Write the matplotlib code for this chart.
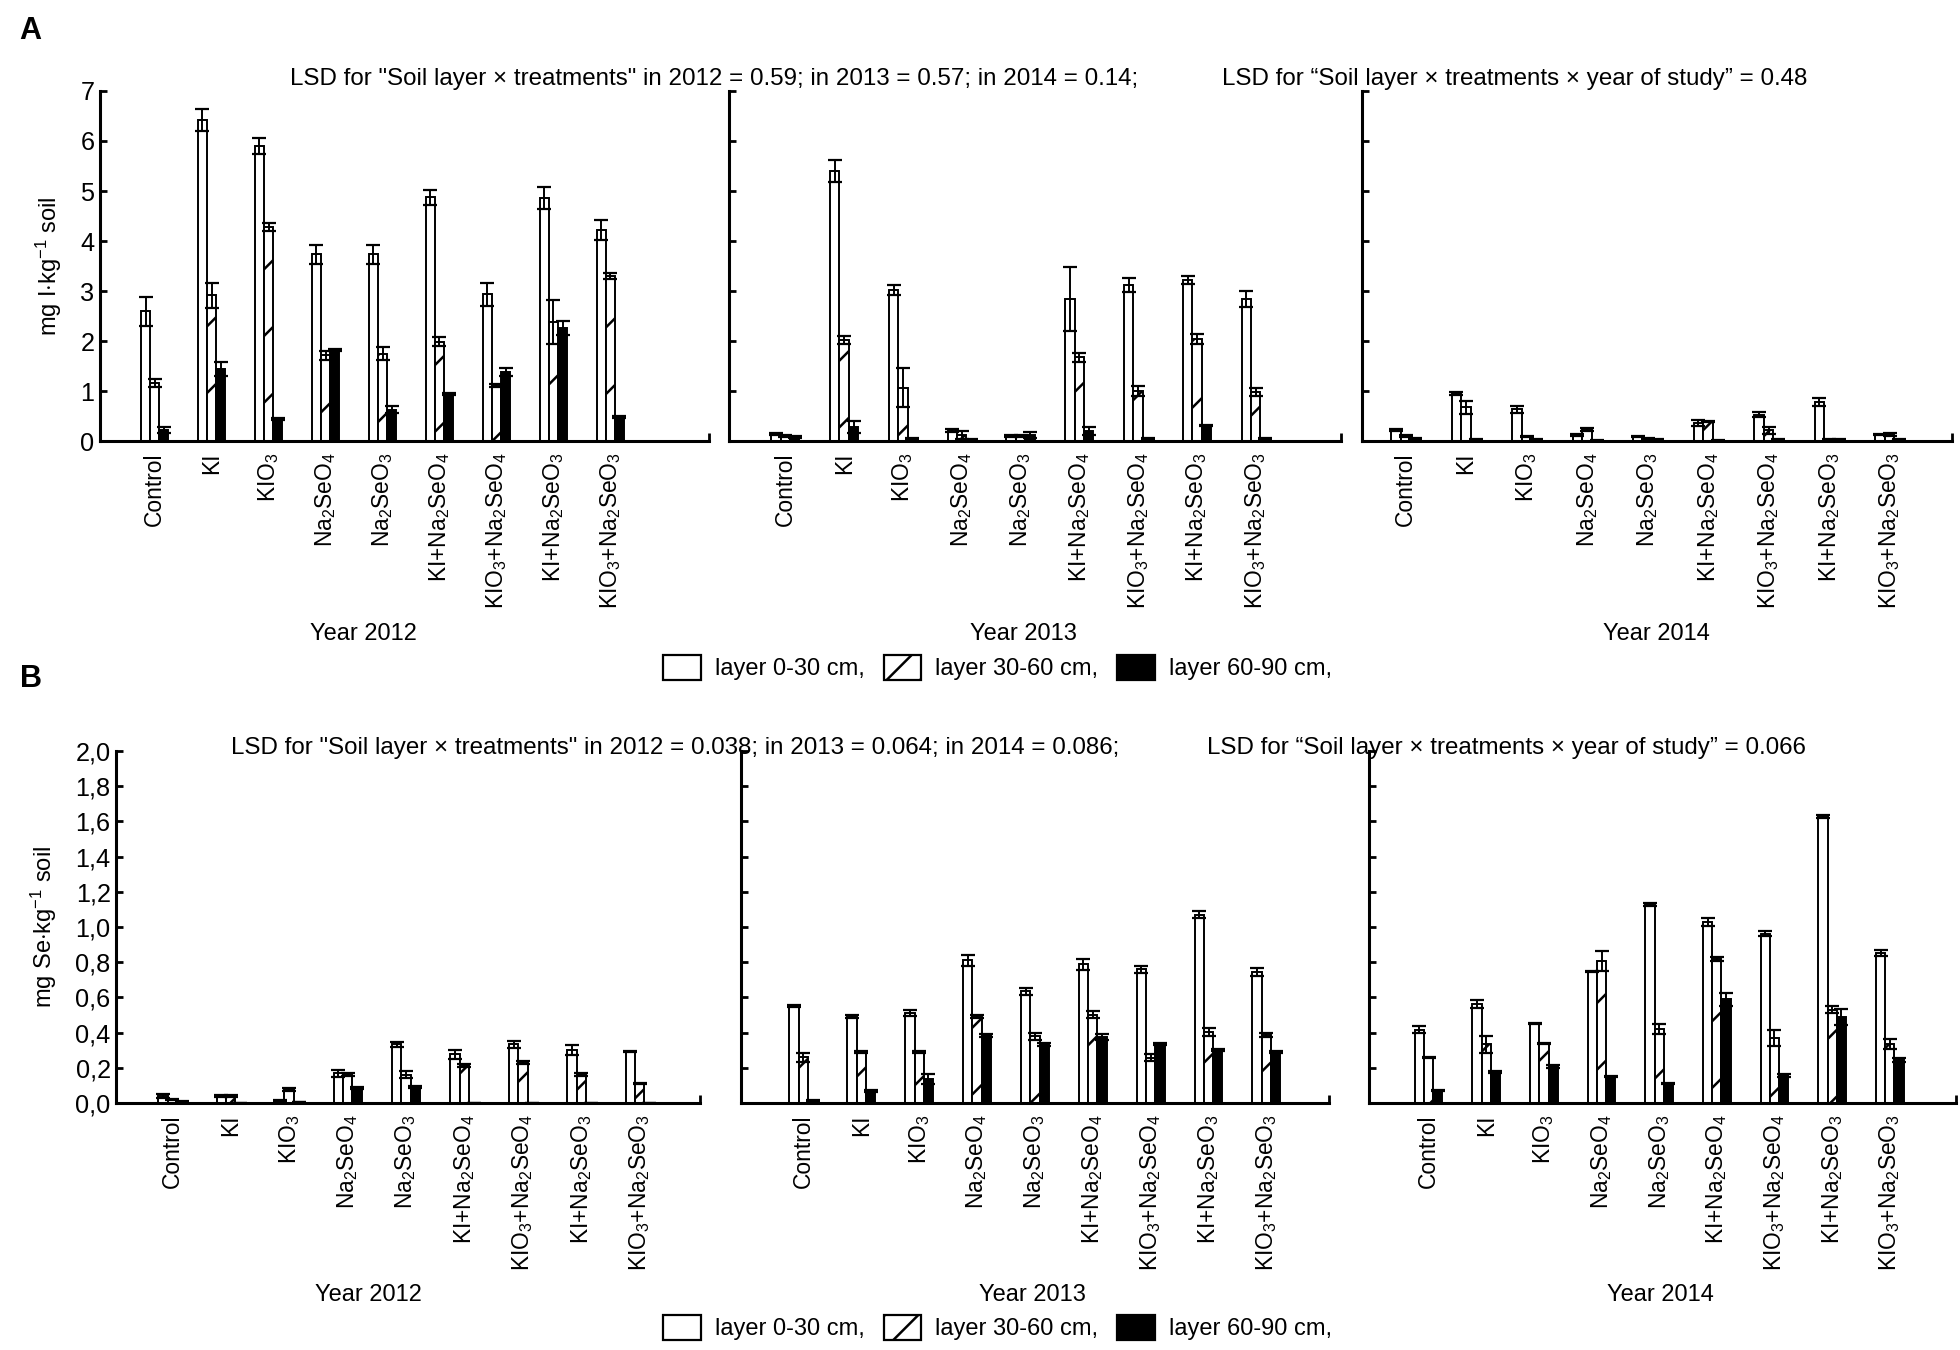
import matplotlib
matplotlib.use("Agg")
import matplotlib.pyplot as plt
import numpy as np
from matplotlib.patches import Patch

plt.rcParams['font.family'] = ['Liberation Sans', 'DejaVu Sans']
plt.rcParams['mathtext.fontset'] = 'custom'
plt.rcParams['mathtext.rm'] = 'Liberation Sans'
plt.rcParams['mathtext.it'] = 'Liberation Sans:italic'
plt.rcParams['mathtext.default'] = 'rm'
plt.rcParams['hatch.linewidth'] = 0.9

# kategorie
treatments = ['Control', 'KI', 'KIO$_3$', 'Na$_2$SeO$_4$', 'Na$_2$SeO$_3$',
              'KI+Na$_2$SeO$_4$', 'KIO$_3$+Na$_2$SeO$_4$', 'KI+Na$_2$SeO$_3$',
              'KIO$_3$+Na$_2$SeO$_3$']
years = ['Year 2012', 'Year 2013', 'Year 2014']
layers = ['layer 0-30 cm,', 'layer 30-60 cm,', 'layer 60-90 cm,']

# A - jod (mg I/kg)
i12_l1 = [2.60, 6.42, 5.89, 3.74, 3.74, 4.88, 2.94, 4.86, 4.23]
i12_l1_err = [0.29, 0.22, 0.16, 0.19, 0.19, 0.15, 0.23, 0.22, 0.20]
i12_l2 = [1.16, 2.92, 4.28, 1.72, 1.75, 1.99, 1.11, 2.38, 3.30]
i12_l2_err = [0.08, 0.25, 0.08, 0.09, 0.13, 0.09, 0.03, 0.44, 0.06]
i12_l3 = [0.22, 1.44, 0.44, 1.82, 0.63, 0.94, 1.39, 2.27, 0.48]
i12_l3_err = [0.06, 0.14, 0.02, 0.02, 0.07, 0.02, 0.08, 0.14, 0.02]

i13_l1 = [0.15, 5.41, 3.02, 0.22, 0.11, 2.84, 3.13, 3.22, 2.84]
i13_l1_err = [0.02, 0.22, 0.10, 0.03, 0.02, 0.64, 0.14, 0.08, 0.16]
i13_l2 = [0.10, 2.02, 1.07, 0.12, 0.10, 1.68, 1.01, 2.04, 0.98]
i13_l2_err = [0.02, 0.08, 0.39, 0.08, 0.02, 0.09, 0.10, 0.10, 0.08]
i13_l3 = [0.08, 0.28, 0.05, 0.04, 0.12, 0.21, 0.06, 0.31, 0.06]
i13_l3_err = [0.02, 0.12, 0.01, 0.01, 0.06, 0.08, 0.01, 0.01, 0.01]

i14_l1 = [0.22, 0.96, 0.64, 0.12, 0.10, 0.36, 0.53, 0.78, 0.13]
i14_l1_err = [0.02, 0.03, 0.07, 0.02, 0.01, 0.06, 0.05, 0.08, 0.01]
i14_l2 = [0.11, 0.68, 0.10, 0.24, 0.05, 0.40, 0.22, 0.03, 0.13]
i14_l2_err = [0.02, 0.13, 0.01, 0.03, 0.01, 0.01, 0.07, 0.01, 0.03]
i14_l3 = [0.05, 0.04, 0.03, 0.01, 0.03, 0.01, 0.03, 0.03, 0.04]
i14_l3_err = [0.01, 0.01, 0.01, 0.005, 0.01, 0.005, 0.01, 0.01, 0.01]

# B - selen (mg Se/kg)
s12_l1 = [0.040, 0.040, 0.015, 0.170, 0.333, 0.277, 0.333, 0.300, 0.294]
s12_l1_err = [0.010, 0.005, 0.003, 0.020, 0.015, 0.025, 0.018, 0.028, 0.003]
s12_l2 = [0.020, 0.040, 0.075, 0.160, 0.160, 0.215, 0.230, 0.160, 0.110]
s12_l2_err = [0.005, 0.005, 0.008, 0.008, 0.020, 0.008, 0.008, 0.008, 0.004]
s12_l3 = [0.010, 0.0, 0.005, 0.085, 0.090, 0.0, 0.0, 0.0, 0.0]
s12_l3_err = [0.003, 0.0, 0.002, 0.004, 0.005, 0.0, 0.0, 0.0, 0.0]

s13_l1 = [0.549, 0.489, 0.511, 0.811, 0.636, 0.788, 0.759, 1.070, 0.744]
s13_l1_err = [0.005, 0.008, 0.018, 0.032, 0.020, 0.030, 0.020, 0.020, 0.025]
s13_l2 = [0.260, 0.290, 0.290, 0.490, 0.380, 0.500, 0.258, 0.403, 0.385]
s13_l2_err = [0.026, 0.008, 0.008, 0.008, 0.020, 0.020, 0.020, 0.022, 0.010]
s13_l3 = [0.015, 0.068, 0.138, 0.384, 0.333, 0.375, 0.337, 0.300, 0.290]
s13_l3_err = [0.004, 0.005, 0.029, 0.010, 0.008, 0.015, 0.005, 0.005, 0.008]

s14_l1 = [0.417, 0.564, 0.450, 0.748, 1.127, 1.028, 0.962, 1.630, 0.852]
s14_l1_err = [0.018, 0.023, 0.004, 0.004, 0.008, 0.022, 0.015, 0.008, 0.018]
s14_l2 = [0.258, 0.333, 0.337, 0.805, 0.422, 0.816, 0.369, 0.530, 0.333]
s14_l2_err = [0.005, 0.047, 0.004, 0.057, 0.028, 0.012, 0.044, 0.020, 0.029]
s14_l3 = [0.072, 0.176, 0.208, 0.150, 0.110, 0.589, 0.157, 0.489, 0.246]
s14_l3_err = [0.004, 0.004, 0.008, 0.004, 0.004, 0.036, 0.008, 0.047, 0.012]

iod = [((i12_l1, i12_l1_err), (i12_l2, i12_l2_err), (i12_l3, i12_l3_err)),
       ((i13_l1, i13_l1_err), (i13_l2, i13_l2_err), (i13_l3, i13_l3_err)),
       ((i14_l1, i14_l1_err), (i14_l2, i14_l2_err), (i14_l3, i14_l3_err))]
sel = [((s12_l1, s12_l1_err), (s12_l2, s12_l2_err), (s12_l3, s12_l3_err)),
       ((s13_l1, s13_l1_err), (s13_l2, s13_l2_err), (s13_l3, s13_l3_err)),
       ((s14_l1, s14_l1_err), (s14_l2, s14_l2_err), (s14_l3, s14_l3_err))]

iod_ticks = [0, 1, 2, 3, 4, 5, 6, 7]
iod_ticklabels = ['0', '1', '2', '3', '4', '5', '6', '7']
sel_ticks = [0.0, 0.2, 0.4, 0.6, 0.8, 1.0, 1.2, 1.4, 1.6, 1.8, 2.0]
sel_ticklabels = ['0,0', '0,2', '0,4', '0,6', '0,8', '1,0', '1,2', '1,4', '1,6', '1,8', '2,0']

# styl slupkow
face = ['white', 'white', 'black']
hatches = [None, '/', None]
bw = 0.16
FS = 8.5      # napisy
FS_TICK = 8.2

fig = plt.figure(figsize=(9.8, 6.75), dpi=200)


def rysuj_panel(dane, pozycje, xlims, ylim, ticks, ticklabels, ylabel):
    axes = []
    for k in range(3):
        ax = fig.add_axes(pozycje[k])
        x = np.arange(len(treatments))
        for j in range(3):
            vals, errs = dane[k][j]
            ax.bar(x + (j - 1) * bw, vals, width=bw, facecolor=face[j],
                   edgecolor='black', linewidth=0.7, hatch=hatches[j], zorder=2)
            ax.errorbar(x + (j - 1) * bw, vals, yerr=errs, fmt='none',
                        ecolor='black', elinewidth=0.7, capsize=2.4,
                        capthick=0.8, zorder=3)
        ax.set_xlim(xlims[k])
        ax.set_ylim(ylim)
        ax.set_xticks(x)
        ax.set_xticklabels(treatments, rotation=90, fontsize=FS_TICK)
        ax.tick_params(axis='x', length=0, pad=4)
        ax.set_xticks([xlims[k][1]], minor=True)
        ax.tick_params(axis='x', which='minor', direction='in', length=3, width=1)
        ax.set_yticks(ticks)
        if k == 0:
            ax.set_yticklabels(ticklabels, fontsize=FS + 0.6)
            ax.set_ylabel(ylabel, fontsize=FS, labelpad=6)
        else:
            ax.set_yticklabels([])
        ax.tick_params(axis='y', direction='in', length=2.5, width=1, pad=2)
        for s in ['top', 'right']:
            ax.spines[s].set_visible(False)
        for s in ['left', 'bottom']:
            ax.spines[s].set_linewidth(1.1)
        ax.set_facecolor('none')
        axes.append(ax)
    return axes


posA = [[0.0510, 0.6733, 0.3107, 0.2593],
        [0.3719, 0.6733, 0.3123, 0.2593],
        [0.6949, 0.6733, 0.3010, 0.2593]]
xlimA = [(-0.96, 9.73), (-0.96, 9.45), (-0.72, 9.03)]
posB = [[0.0593, 0.1830, 0.2978, 0.2607],
        [0.3780, 0.1830, 0.3000, 0.2607],
        [0.6983, 0.1830, 0.2997, 0.2607]]
xlimB = [(-0.96, 9.03), (-1.08, 9.08), (-1.04, 9.15)]

rysuj_panel(iod, posA, xlimA, (0, 7), iod_ticks, iod_ticklabels,
            'mg I$\\cdot$kg$^{-1}$ soil')
rysuj_panel(sel, posB, xlimB, (0, 2.0), sel_ticks, sel_ticklabels,
            'mg Se$\\cdot$kg$^{-1}$ soil')

# napisy
fig.text(0.010, 0.977, 'A', fontsize=11, fontweight='bold', va='center')
fig.text(0.010, 0.497, 'B', fontsize=11, fontweight='bold', va='center')

FS_LSD = 8.7
fig.text(0.148, 0.9415, 'LSD for "Soil layer \u00d7 treatments" in 2012 = 0.59; in 2013 = 0.57; in 2014 = 0.14;',
         fontsize=FS_LSD, va='center')
fig.text(0.6236, 0.9415, 'LSD for \u201cSoil layer \u00d7 treatments \u00d7 year of study\u201d = 0.48',
         fontsize=FS_LSD, va='center')
fig.text(0.118, 0.446, 'LSD for "Soil layer \u00d7 treatments" in 2012 = 0.038; in 2013 = 0.064; in 2014 = 0.086;',
         fontsize=FS_LSD, va='center')
fig.text(0.616, 0.446, 'LSD for \u201cSoil layer \u00d7 treatments \u00d7 year of study\u201d = 0.066',
         fontsize=FS_LSD, va='center')

for xx, yy in zip([0.1855, 0.5223, 0.845], years):
    fig.text(xx, 0.5304, yy, fontsize=FS, ha='center', va='center')
for xx, yy in zip([0.188, 0.527, 0.847], years):
    fig.text(xx, 0.0407, yy, fontsize=FS, ha='center', va='center')

# w legendzie gestsze kreskowanie, zeby bylo widac w malym kwadracie
legend_hatch = [None, '//', None]
uchwyty = [Patch(facecolor=face[j], edgecolor='black', linewidth=0.8, hatch=legend_hatch[j])
           for j in range(3)]
for yl in [0.5056, 0.0167]:
    fig.legend(uchwyty, layers, loc='center', bbox_to_anchor=(0.509, yl), ncol=3,
               frameon=False, fontsize=FS, handlelength=1.6, handleheight=1.3,
               columnspacing=0.8, handletextpad=0.6, borderpad=0)

fig.savefig('out.png', dpi=200, facecolor='white')
